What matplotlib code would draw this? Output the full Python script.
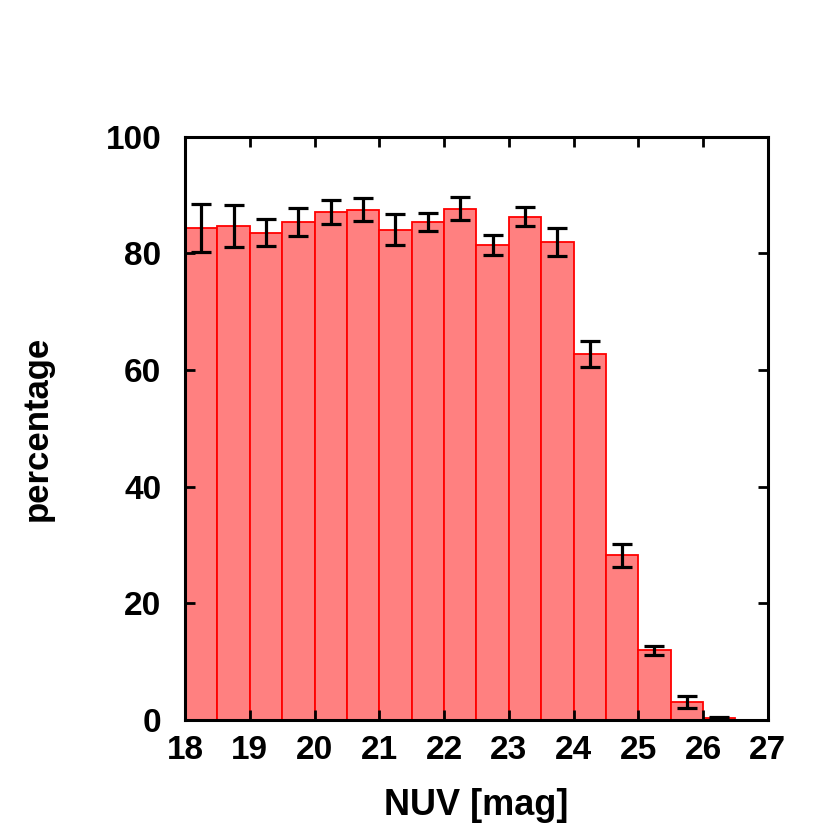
import numpy as np
import matplotlib
matplotlib.use("Agg")
import matplotlib.pyplot as plt

plt.rcParams['font.family'] = ['Liberation Sans', 'DejaVu Sans']
plt.rcParams['font.weight'] = 'bold'

# bin left edges (NUV mag), bin width 0.5
bin_left = [18.0, 18.5, 19.0, 19.5, 20.0, 20.5, 21.0, 21.5, 22.0,
            22.5, 23.0, 23.5, 24.0, 24.5, 25.0, 25.5, 26.0]
percent = [84.4, 84.7, 83.6, 85.4, 87.1, 87.5, 84.1, 85.4, 87.7,
           81.4, 86.3, 81.9, 62.7, 28.2, 11.9, 3.0, 0.2]
percent_err = [4.1, 3.6, 2.3, 2.4, 2.0, 2.0, 2.6, 1.6, 2.0,
               1.7, 1.6, 2.4, 2.2, 2.0, 0.8, 1.0, 0.3]
width = 0.5

fig = plt.figure(figsize=(8.3, 8.3), dpi=100)
ax = fig.add_axes([0.223, 0.133, 0.702, 0.702])

centers = np.array(bin_left) + width / 2
ax.bar(bin_left, percent, width=width, align='edge',
       color='#ff8080', edgecolor='#ff0000', linewidth=1.3)
ax.errorbar(centers, percent, yerr=percent_err, fmt='none',
            ecolor='black', elinewidth=2.3, capsize=7.5, capthick=2.3)

ax.set_xlim(18, 27)
ax.set_ylim(0, 100)
ax.set_xticks(range(18, 28))
ax.set_yticks(range(0, 101, 20))
ax.tick_params(direction='in', length=7, width=2, top=True, right=True,
               labelsize=24)
ax.tick_params(axis='x', pad=11)
ax.tick_params(axis='y', pad=17)
for lab in ax.get_xticklabels() + ax.get_yticklabels():
    lab.set_fontweight('bold')
for s in ax.spines.values():
    s.set_linewidth(2.2)

ax.set_xlabel("NUV [mag]", fontsize=26, fontweight='bold')
ax.set_ylabel("percentage", fontsize=25, fontweight='bold')
ax.xaxis.set_label_coords(0.5, -0.118)
ax.yaxis.set_label_coords(-0.226, 0.5)

fig.savefig("out.png", dpi=100)
